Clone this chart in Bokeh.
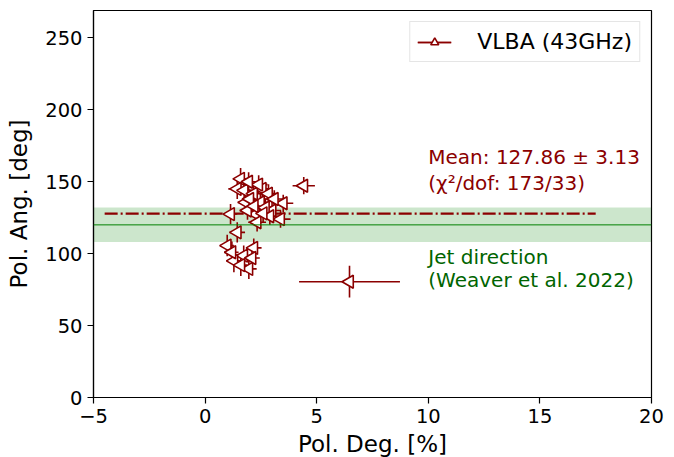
import numpy as np
from bokeh.plotting import figure
from bokeh.models import (Range1d, FixedTicker, Legend, LegendItem, ColumnDataSource,
                          BoxAnnotation, Span)
from bokeh.embed import file_html
from bokeh.resources import INLINE
from bokeh.core.properties import value

# ---- data ----
pol_deg = [1.59, 1.44, 1.75, 2.56, 2.17, 2.84, 1.81, 2.48, 3.50, 3.00, 2.26, 1.14,
           3.38, 2.33, 1.44, 0.99, 2.18, 1.73, 1.29, 1.96, 4.42, 6.47, 2.00, 2.70,
           1.90, 2.90, 1.60, 2.10, 2.40, 1.95, 3.10, 2.60, 1.20, 2.20]
pol_deg_err = [0.35, 0.40, 0.35, 0.40, 0.35, 0.40, 0.35, 0.40, 0.45, 0.40, 0.35, 0.30,
               0.45, 0.40, 0.35, 0.30, 0.35, 0.35, 0.30, 0.35, 0.50, 2.26, 0.35, 0.40,
               0.35, 0.40, 0.30, 0.35, 0.40, 0.35, 0.40, 0.40, 0.30, 0.35]
pol_ang = [152.0, 145.0, 144.0, 145.0, 141.7, 141.7, 135.6, 135.6, 135.0, 130.0, 127.5, 127.5,
           124.0, 121.8, 114.8, 105.6, 104.0, 98.6, 95.0, 89.4, 147.2, 80.5, 138.0, 132.0,
           130.0, 126.0, 92.0, 97.0, 148.0, 150.0, 138.0, 128.0, 101.0, 133.0]
pol_ang_err = [7.5, 7.0, 7.0, 7.0, 6.5, 6.5, 6.5, 6.5, 6.0, 6.0, 6.5, 7.0,
               6.0, 6.5, 7.0, 7.5, 6.5, 7.0, 8.0, 7.0, 6.0, 11.0, 6.5, 6.5,
               6.5, 6.0, 7.5, 7.0, 6.5, 6.5, 6.0, 6.5, 7.5, 6.5]

mean_ang = 127.86
mean_err = 3.13
mean_line_x = [-4.5, 17.5]
jet_dir = 120.0
jet_err = 12.0

x_ticks = [-5, 0, 5, 10, 15, 20]
y_ticks = [0, 50, 100, 150, 200, 250]

DARKRED = "#8b0000"
GREEN = "#008000"
DKGREEN = "#006400"
FONT = "DejaVu Sans"

px = np.array(pol_deg); pxe = np.array(pol_deg_err)
py = np.array(pol_ang); pye = np.array(pol_ang_err)
src = ColumnDataSource(dict(x=px, y=py, x0=px - pxe, x1=px + pxe, y0=py - pye, y1=py + pye))

p = figure(frame_width=558, frame_height=387, min_border_left=93, min_border_right=15,
           min_border_top=10, min_border_bottom=52, output_backend="svg",
           toolbar_location=None, x_range=Range1d(-5, 20), y_range=Range1d(0, 269))
p.background_fill_color = "white"
p.border_fill_color = "white"
p.outline_line_color = "black"
p.outline_line_width = 1.2
p.xgrid.visible = False
p.ygrid.visible = False

# jet direction band + line
p.add_layout(BoxAnnotation(bottom=jet_dir - jet_err, top=jet_dir + jet_err,
                           fill_color=GREEN, fill_alpha=0.2, line_alpha=0, level="underlay"))
p.add_layout(Span(location=jet_dir, dimension="width", line_color=GREEN, line_width=1))

# mean line
p.line(x=mean_line_x, y=[mean_ang, mean_ang], line_color=DARKRED, line_width=2.2,
       line_dash="13 3 2 3")

# error bars
sx = p.segment(x0="x0", y0="y", x1="x1", y1="y", source=src, line_color=DARKRED, line_width=1.6)
sy = p.segment(x0="x", y0="y0", x1="x", y1="y1", source=src, line_color=DARKRED, line_width=1.6)
mk = p.scatter(x="x", y="y", source=src, marker="triangle", angle=np.pi / 2, size=13,
               fill_color="white", line_color=DARKRED, line_width=1.6)

# annotations
ann = dict(text_font=value(FONT), text_font_size="20px", text_baseline="alphabetic")
p.text(x=[10], y=[167.5], text=["Mean: 127.86 \u00b1 3.13"], text_color=DARKRED, **ann)
p.text(x=[10], y=[149.0], text=["(\u03c7\u00b2/dof: 173/33)"], text_color=DARKRED, **ann)
p.text(x=[10], y=[97.5], text=["Jet direction"], text_color=DKGREEN, **ann)
p.text(x=[10], y=[81.5], text=["(Weaver et al. 2022)"], text_color=DKGREEN, **ann)

# axes
for ax in (p.xaxis[0], p.yaxis[0]):
    ax.major_tick_out = 6
    ax.major_tick_in = 0
    ax.minor_tick_line_color = None
    ax.axis_line_width = 1.2
    ax.major_tick_line_width = 1.2
    ax.major_label_text_font = FONT
    ax.major_label_text_font_size = "19.5px"
    ax.major_label_text_color = "black"
    ax.axis_label_text_font = FONT
    ax.axis_label_text_font_size = "23px"
    ax.axis_label_text_font_style = "normal"
    ax.axis_label_text_color = "black"
    ax.major_label_standoff = 5
p.xaxis[0].ticker = FixedTicker(ticks=x_ticks)
p.yaxis[0].ticker = FixedTicker(ticks=y_ticks)
p.xaxis[0].major_label_overrides = {-5: "\u22125"}
p.xaxis[0].axis_label = "Pol. Deg. [%]"
p.yaxis[0].axis_label = "Pol. Ang. [deg]"
p.xaxis[0].axis_label_standoff = 5
p.yaxis[0].axis_label_standoff = 10

legend = Legend(items=[LegendItem(label="VLBA (43GHz)", renderers=[sx, sy, mk])],
                location="top_right")
legend.label_text_font = FONT
legend.label_text_font_size = "22px"
legend.label_text_color = "black"
legend.border_line_color = "#cccccc"
legend.border_line_width = 1
legend.margin = 11
legend.padding = 7
legend.label_standoff = 26
legend.glyph_width = 34
legend.background_fill_alpha = 0.8
p.add_layout(legend)

open("out.html", "w").write(file_html(p, INLINE))
